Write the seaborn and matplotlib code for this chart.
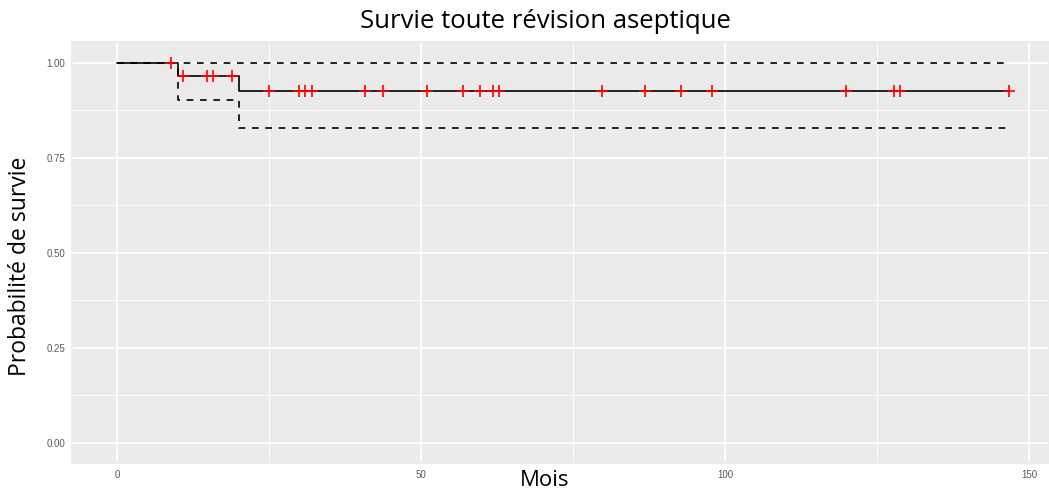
import numpy as np
import pandas as pd
import seaborn as sns
import matplotlib.pyplot as plt

# courbe de Kaplan-Meier
temps = [0, 10, 20, 146.7]
survie = [1.0, 0.9658, 0.926, 0.926]
ic_bas = [1.0, 0.901, 0.829, 0.829]
ic_haut = [1.0, 1.0, 1.0, 1.0]

# temps censurés (mois)
censures = [8.9, 10.9, 14.8, 15.8, 18.9, 25.0, 30.0, 31.0, 32.0, 40.8, 43.8,
            51.0, 56.9, 59.7, 61.8, 62.8, 79.8, 86.8, 92.8, 97.8, 119.8,
            127.7, 128.7, 146.7]

x_ticks = [0, 50, 100, 150]
y_ticks = [0.0, 0.25, 0.5, 0.75, 1.0]


def niveau(t):
    i = np.searchsorted(temps, t, side='right') - 1
    return survie[i]


sns.set_theme(style="darkgrid", rc={
    "axes.facecolor": "#EBEBEB",
    "grid.color": "white",
    "axes.edgecolor": "#EBEBEB",
})

df = pd.DataFrame({"temps": temps, "survie": survie, "bas": ic_bas, "haut": ic_haut})
df_cens = pd.DataFrame({"temps": censures, "survie": [niveau(t) for t in censures]})

fig = plt.figure(figsize=(10.49, 4.93), dpi=100)
ax = fig.add_axes([72.3 / 1049, 30 / 493, 1 - 72.3 / 1049, (463 - 42) / 493])

sns.lineplot(data=df, x="temps", y="haut", ax=ax, color="black", lw=1.2,
             drawstyle="steps-post", estimator=None, sort=False,
             linestyle=(0, (4, 4)))
sns.lineplot(data=df, x="temps", y="bas", ax=ax, color="black", lw=1.2,
             drawstyle="steps-post", estimator=None, sort=False,
             linestyle=(0, (4, 4)))
sns.lineplot(data=df, x="temps", y="survie", ax=ax, color="black", lw=1.2,
             drawstyle="steps-post", estimator=None, sort=False)
sns.scatterplot(data=df_cens, x="temps", y="survie", ax=ax, marker="+",
                color="#FF0000", s=70, linewidth=1.2, zorder=5)

ax.set_xlim(-7.33, 153.24)
ax.set_ylim(-0.0534, 1.0545)
ax.set_xticks(x_ticks)
ax.set_yticks(y_ticks)
ax.set_xticklabels([str(v) for v in x_ticks])
ax.set_yticklabels(["%.2f" % v for v in y_ticks])
ax.set_xticks([25, 75, 125], minor=True)
ax.set_yticks([0.125, 0.375, 0.625, 0.875], minor=True)
ax.grid(which="major", color="white", lw=1.3)
ax.grid(which="minor", color="white", lw=0.7)
ax.tick_params(which="major", length=3, width=0.8, color="#333333",
               labelsize=7, labelcolor="#5A5A5A", pad=2)
ax.tick_params(which="minor", length=0)
for lab in ax.get_xticklabels() + ax.get_yticklabels():
    lab.set_family("Liberation Sans")

ax.set_xlabel("")
ax.set_ylabel("")
fig.text(545 / 1049, 1 - 481 / 493, "Mois", ha="center", va="center",
         fontsize=16, family="Open Sans", color="black")
fig.text(20 / 1049, 1 - 266 / 493, "Probabilité de survie", ha="center",
         va="center", rotation=90, fontsize=16.5, family="Open Sans",
         color="black")
fig.text(545 / 1049, 1 - 21 / 493, "Survie toute révision aseptique",
         ha="center", va="center", fontsize=18.5, family="Open Sans",
         color="black")

fig.savefig("out.png", dpi=100)
plt.close()
